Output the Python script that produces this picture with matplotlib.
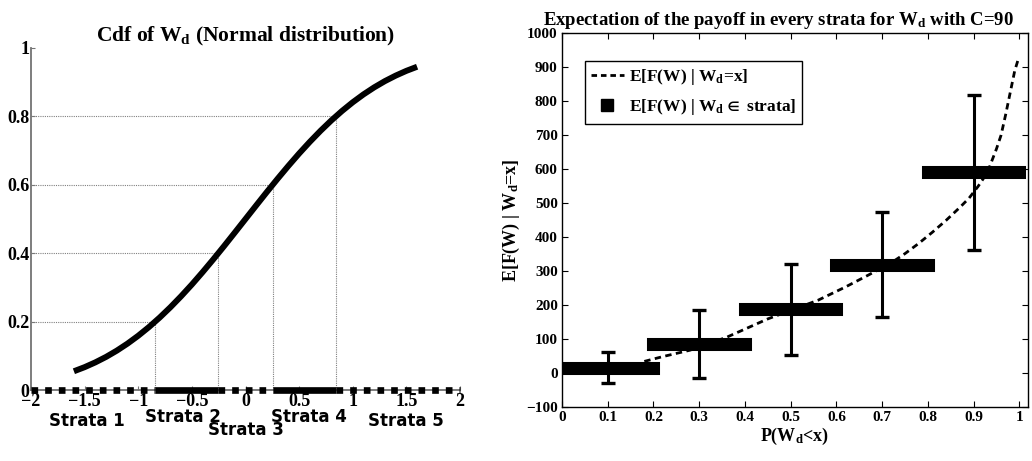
import numpy as np
import matplotlib
matplotlib.use("Agg")
import matplotlib.pyplot as plt
from matplotlib.lines import Line2D
import matplotlib.transforms as mtransforms

SERIF = ['Liberation Serif', 'DejaVu Serif']
plt.rcParams['font.family'] = SERIF
plt.rcParams['font.weight'] = 'bold'
plt.rcParams['mathtext.fontset'] = 'custom'
plt.rcParams['mathtext.rm'] = 'Liberation Serif:bold'
plt.rcParams['mathtext.it'] = 'Liberation Serif:bold'
plt.rcParams['mathtext.bf'] = 'Liberation Serif:bold'
plt.rcParams['mathtext.fallback'] = 'stix'
plt.rcParams['axes.unicode_minus'] = True

# ---------------- data: left panel (CDF of W_d) ----------------
cdf_x = [-1.6, -1.5, -1.4, -1.3, -1.2, -1.1, -1.0, -0.9, -0.8, -0.7, -0.6,
         -0.5, -0.4, -0.3, -0.2, -0.1, 0.0, 0.1, 0.2, 0.3, 0.4, 0.5, 0.6,
         0.7, 0.8, 0.9, 1.0, 1.1, 1.2, 1.3, 1.4, 1.5, 1.6]
cdf_y = [0.0548, 0.0668, 0.0808, 0.0968, 0.1151, 0.1357, 0.1587, 0.1841,
         0.2119, 0.2420, 0.2743, 0.3085, 0.3446, 0.3821, 0.4207, 0.4602,
         0.5000, 0.5398, 0.5793, 0.6179, 0.6554, 0.6915, 0.7257, 0.7580,
         0.7881, 0.8159, 0.8413, 0.8643, 0.8849, 0.9032, 0.9192, 0.9332, 0.9452]
strata_edges_x = [-2.0, -0.8416, -0.2533, 0.2533, 0.8416, 2.0]
strata_probs = [0.2, 0.4, 0.6, 0.8]
strata_dashed = [True, False, True, False, True]
strata_labels = ['Strata 1', 'Strata 2', 'Strata 3', 'Strata 4', 'Strata 5']
strata_label_x = [-1.48, -0.58, 0.0, 0.59, 1.50]
strata_label_y = [-0.090, -0.079, -0.116, -0.079, -0.090]
left_xticks = [-2, -1.5, -1, -0.5, 0, 0.5, 1, 1.5, 2]
left_yticks = [0, 0.2, 0.4, 0.6, 0.8, 1]

# ---------------- data: right panel (expected payoff) ----------------
prob_edges = [0.0, 0.2, 0.4, 0.6, 0.8, 1.0]
strata_mid = [0.1, 0.3, 0.5, 0.7, 0.9]
strata_mean = [17, 86, 188, 320, 591]
strata_err = [46, 100, 134, 153, 227]
cond_x = [0.18, 0.22, 0.28, 0.36, 0.41, 0.45, 0.50, 0.56, 0.62, 0.67, 0.72,
          0.75, 0.78, 0.81, 0.84, 0.87, 0.89, 0.91, 0.93, 0.95, 0.96, 0.97,
          0.98, 0.99, 0.998]
cond_y = [35, 49, 68, 106, 136, 160, 185, 215, 254, 289, 325,
          352, 382, 415, 450, 488, 515, 550, 590, 660, 700, 760,
          825, 890, 925]
right_xticks = [0, 0.1, 0.2, 0.3, 0.4, 0.5, 0.6, 0.7, 0.8, 0.9, 1]
right_yticks = [-100, 0, 100, 200, 300, 400, 500, 600, 700, 800, 900, 1000]

fig = plt.figure(figsize=(10.32, 4.61), dpi=100)

# ================= left panel =================
axL = fig.add_axes([31/1032, (461-390)/461, 429/1032, 342/461])
axL.set_xlim(-2, 2)
axL.set_ylim(0, 1)
for s in ['top', 'right']:
    axL.spines[s].set_visible(False)
for s in ['left', 'bottom']:
    axL.spines[s].set_color('0.45')
    axL.spines[s].set_linewidth(1.3)
    axL.spines[s].set_zorder(1)

# dotted guide lines
for q, p in zip(strata_edges_x[1:-1], strata_probs):
    axL.plot([strata_edges_x[0], q], [p, p], ls=(0, (1, 1)), color='0.5', lw=0.8, zorder=2)
    axL.plot([q, q], [0, p], ls=(0, (1, 1)), color='0.5', lw=0.8, zorder=2)

axL.plot(cdf_x, cdf_y, color='black', lw=4.3, solid_capstyle='butt',
         solid_joinstyle='round', zorder=4)

# strata markers on the x axis
for i in range(5):
    x0, x1 = strata_edges_x[i], strata_edges_x[i+1]
    if strata_dashed[i]:
        axL.plot([x0, x1], [0, 0], color='black', lw=4.8, dashes=(1.0, 1.05),
                 solid_capstyle='butt', dash_capstyle='butt', clip_on=False, zorder=5)
    else:
        axL.plot([x0, x1], [0, 0], color='black', lw=4.8, solid_capstyle='butt',
                 clip_on=False, zorder=5)

trans = mtransforms.blended_transform_factory(axL.transData, axL.transAxes)
for lab, lx, ly in zip(strata_labels, strata_label_x, strata_label_y):
    axL.text(lx, ly, lab, transform=trans, ha='center', va='center',
             family=['DejaVu Sans'], fontweight='bold', fontsize=12)

axL.set_xticks(left_xticks)
axL.set_xticklabels(['\u22122', '\u22121.5', '\u22121', '\u22120.5', '0', '0.5', '1', '1.5', '2'])
axL.set_yticks(left_yticks)
axL.set_yticklabels(['0', '0.2', '0.4', '0.6', '0.8', '1'])
axL.tick_params(axis='both', direction='in', length=3, width=0.8, color='0.45',
                labelsize=13)
axL.tick_params(axis='x', pad=2)
axL.tick_params(axis='y', pad=1)
axL.set_title('Cdf of W$_\\mathrm{d}$ (Normal distribution)', fontsize=15.5,
              fontweight='bold', pad=3)

# ================= right panel =================
axR = fig.add_axes([562/1032, (461-407.3)/461, 466/1032, 374/461])
axR.set_xlim(0, 1.019)
axR.set_ylim(-100, 1000)

for i in range(5):
    axR.plot([prob_edges[i], prob_edges[i+1]], [strata_mean[i], strata_mean[i]],
             color='black', lw=9.4, solid_capstyle='projecting', zorder=3)
axR.errorbar(strata_mid, strata_mean, yerr=strata_err, fmt='none', ecolor='black',
             elinewidth=2.2, capsize=5, capthick=2.4, zorder=4)
axR.plot(cond_x, cond_y, color='black', lw=2.0, dashes=(2.3, 1.6), zorder=5)

axR.set_xticks(right_xticks)
axR.set_xticklabels(['0', '0.1', '0.2', '0.3', '0.4', '0.5', '0.6', '0.7', '0.8', '0.9', '1'])
axR.set_yticks(right_yticks)
axR.set_yticklabels(['\u2212100'] + [str(v) for v in right_yticks[1:]])
axR.tick_params(direction='in', length=4, width=0.8, top=True, right=True,
                labelsize=11, pad=3)
for s in axR.spines.values():
    s.set_linewidth(1.0)

axR.set_title('Expectation of the payoff in every strata for W$_\\mathrm{d}$ with C=90',
              fontsize=13.5, fontweight='bold', x=0.465, pad=6)
axR.set_xlabel('P(W$_\\mathrm{d}$<x)', fontsize=13, fontweight='bold', labelpad=1)
axR.set_ylabel('E[F(W) | W$_\\mathrm{d}$=x]', fontsize=13, fontweight='bold', labelpad=3)

handles = [Line2D([], [], color='black', lw=2.0, dashes=(2.0, 1.4)),
           Line2D([], [], color='black', ls='none', marker='s', markersize=8)]
leg = axR.legend(handles, ['E[F(W) | W$_\\mathrm{d}$=x]',
                           'E[F(W) | W$_\\mathrm{d}\\in$ strata]'],
                 loc='upper left', bbox_to_anchor=(0.049, 0.926), borderaxespad=0,
                 fancybox=False, framealpha=1, edgecolor='black', fontsize=12.5,
                 handlelength=1.9, handletextpad=0.3, borderpad=0.35, labelspacing=0.6)
leg.get_frame().set_linewidth(1.0)

fig.savefig('out.png', dpi=100)
